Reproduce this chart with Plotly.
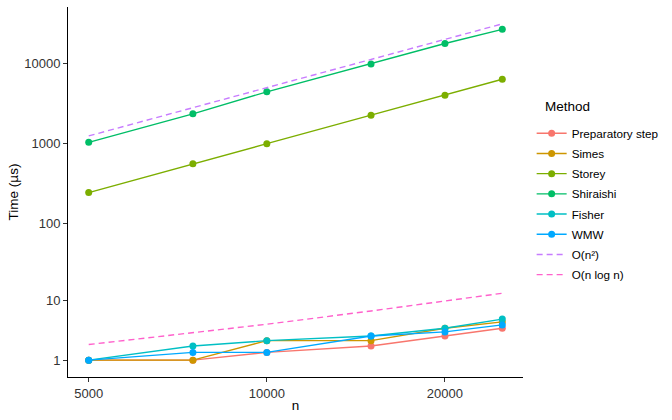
import numpy as np
import plotly.graph_objects as go

# sample sizes
n = [5000, 7500, 10000, 15000, 20000, 25000]

# median running times (µs)
prep = [1, 1, 1.5, 2, 3, 4]
simes = [1, 1, 2.5, 2.5, 4, 5]
storey = [245, 563, 1000, 2270, 4030, 6370]
shiraishi = [1040, 2360, 4440, 9900, 17750, 26700]
fisher = [1, 2, 2.5, 3, 4, 5.5]
wmw = [1, 1.5, 1.5, 3, 3.5, 4.5]

# reference curves
o_n2 = [1250, 2810, 5000, 11250, 20000, 31250]
o_nlogn = [2.13, 3.35, 4.61, 7.21, 9.90, 12.66]

y_ticks = [1, 10, 100, 1000, 10000]

series = [
    ("Preparatory step", prep, "#F8766D", "solid"),
    ("Simes", simes, "#CD9600", "solid"),
    ("Storey", storey, "#7CAE00", "solid"),
    ("Shiraishi", shiraishi, "#00BE67", "solid"),
    ("Fisher", fisher, "#00BFC4", "solid"),
    ("WMW", wmw, "#00A9FF", "solid"),
    ("O(n²)", o_n2, "#C77CFF", "dash"),
    ("O(n log n)", o_nlogn, "#FF61CC", "dash"),
]


def log1p10(v):
    # the y axis uses a log10(1 + y) scale
    return np.log10(1 + np.asarray(v, dtype=float))


fig = go.Figure()
for name, vals, color, dash in series:
    fig.add_trace(go.Scatter(
        x=n,
        y=log1p10(vals),
        name=name,
        legendgroup=name,
        mode="lines" if dash == "dash" else "lines+markers",
        line=dict(color=color, width=1.4, dash="6px,4px" if dash == "dash" else "solid"),
        marker=dict(color=color, size=7),
    ))

fig.add_annotation(
    text="Method", xref="paper", yref="paper",
    x=1.044, y=0.730, xanchor="left", yanchor="middle",
    showarrow=False, font=dict(size=13.5),
)

fig.update_layout(
    width=672,
    height=420,
    margin=dict(l=68, r=149, t=7, b=43, autoexpand=False),
    paper_bgcolor="white",
    plot_bgcolor="white",
    font=dict(family="Liberation Sans, Arial, sans-serif", size=12, color="black"),
    legend=dict(
        x=1.019, xanchor="left",
        y=0.698, yanchor="top",
        font=dict(size=11.7),
        itemwidth=30,
        tracegroupgap=1.2,
    ),
    xaxis=dict(
        type="log",
        automargin=False,
        range=[np.log10(5000) - 0.035, np.log10(25000) + 0.035],
        tickvals=[5000, 10000, 20000],
        ticktext=["5000", "10000", "20000"],
        showline=True, linecolor="black", linewidth=1,
        ticks="outside", ticklen=4, tickcolor="#333333",
        showgrid=False, zeroline=False,
        tickfont=dict(size=13, color="#333333"),
        title=dict(text="n", font=dict(size=13.5), standoff=0),
    ),
    yaxis=dict(
        automargin=False,
        range=[0.091, 4.705],
        tickvals=log1p10(y_ticks),
        ticktext=[str(t) for t in y_ticks],
        showline=True, linecolor="black", linewidth=1,
        ticks="outside", ticklen=4, tickcolor="#333333",
        showgrid=False, zeroline=False,
        tickfont=dict(size=13, color="#333333"),
        title=dict(text="Time (µs)", font=dict(size=13.5), standoff=2),
    ),
)

# drop the page's default body margin so the figure sits at the window corner
fig.write_html(
    "out.html",
    config={"displayModeBar": False},
    post_script="document.body.style.margin='0';",
)
